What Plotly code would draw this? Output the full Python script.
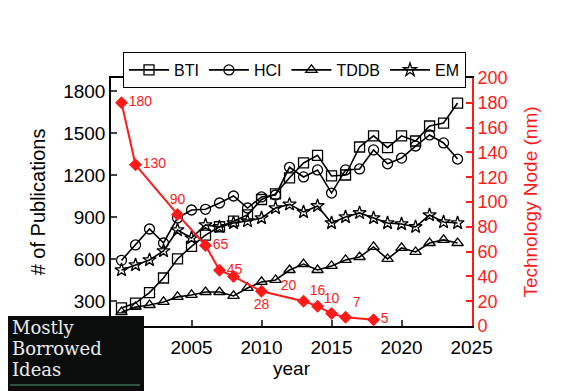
import plotly.graph_objects as go

years = [2000, 2001, 2002, 2003, 2004, 2005, 2006, 2007, 2008, 2009, 2010, 2011, 2012,
         2013, 2014, 2015, 2016, 2017, 2018, 2019, 2020, 2021, 2022, 2023, 2024]
bti = [250, 285, 360, 464, 600, 690, 770, 830, 870, 915, 1025, 1065, 1180,
       1286, 1340, 1193, 1200, 1400, 1480, 1395, 1480, 1443, 1550, 1571, 1714]
hci = [590, 700, 814, 714, 893, 950, 955, 1000, 1050, 964, 1043, 1057, 1255,
       1186, 1236, 1071, 1236, 1243, 1379, 1280, 1321, 1407, 1486, 1429, 1314]
tddb = [220, 257, 271, 293, 329, 343, 364, 364, 336, 393, 436, 450, 521,
        564, 521, 550, 593, 614, 686, 600, 679, 650, 714, 736, 714]
em = [521, 557, 593, 657, 807, 750, 843, 829, 857, 871, 893, 964, 990,
      936, 979, 857, 900, 929, 893, 857, 850, 829, 914, 864, 857]

node_years = [2000, 2001, 2004, 2006, 2007, 2008, 2010, 2013, 2014, 2015, 2016, 2018]
node_nm = [180, 130, 90, 65, 45, 40, 28, 20, 16, 10, 7, 5]
node_labels = ["180", "130", "90", "65", "45", "", "28", "20", "16", "10", "7", "5"]
node_label_pos = ["middle right", "middle right", "top center", "middle right", "middle right",
                  "middle right", "bottom center", "top left", "top center", "top center",
                  "top right", "middle right"]

pub_ticks = [300, 600, 900, 1200, 1500, 1800]
nm_ticks = [0, 20, 40, 60, 80, 100, 120, 140, 160, 180, 200]
year_ticks = [2000, 2005, 2010, 2015, 2020, 2025]

W, H = 570, 391
OFF = 8  # page body margin offset
# plot area in page pixels
PL, PR, PT, PB = 111, 472, 78, 326
L = PL - OFF
T = PT - OFF
R = W - (PR - OFF)
B = H - (PB - OFF)
pw, ph = PR - PL, PB - PT

def px(x):  # page x -> paper
    return (x - PL) / pw

def py(y):  # page y -> paper
    return (PB - y) / ph

FONT = "Liberation Sans, Arial, sans-serif"
RED = "#ff1a1a"

fig = go.Figure()
series = [("BTI", bti, "square-open"), ("HCI", hci, "circle-open"),
          ("TDDB", tddb, "triangle-up-open"), ("EM", em, "star-open")]
for name, vals, sym in series:
    fig.add_trace(go.Scatter(
        x=years, y=vals, name=name, mode="lines+markers",
        line=dict(color="black", width=1.6),
        marker=dict(symbol=sym, size=10, color="black", line=dict(width=1.3, color="black")),
    ))

fig.add_trace(go.Scatter(
    x=node_years, y=node_nm, yaxis="y2", mode="lines+markers+text", showlegend=False,
    text=node_labels, textposition=node_label_pos,
    textfont=dict(color=RED, size=14, family=FONT),
    line=dict(color=RED, width=2),
    marker=dict(symbol="diamond", size=10, color=RED),
))

fig.update_layout(
    width=W, height=H,
    margin=dict(l=L, r=R, t=T, b=B, autoexpand=False),
    paper_bgcolor="white", plot_bgcolor="white",
    font=dict(family=FONT, color="black"),
    showlegend=True,
    legend=dict(orientation="h", x=px(123), y=py(52), xanchor="left", yanchor="top",
                bordercolor="black", borderwidth=1, bgcolor="white",
                font=dict(size=16, family=FONT), itemwidth=40,
                tracegroupgap=0),
    xaxis=dict(range=[1999.25, 2025.03], tickvals=year_ticks, ticks="inside", ticklen=6,
               tickwidth=1.5, showline=True, linecolor="black", linewidth=1.8, mirror=True,
               showgrid=False, zeroline=False, automargin=False, ticklabelstandoff=3,
               tickfont=dict(size=19), title=dict(text="year", font=dict(size=19), standoff=2)),
    yaxis=dict(range=[121, 1893], tickvals=pub_ticks, ticks="inside", ticklen=6,
               tickwidth=1.5, showline=True, linecolor="black", linewidth=1.5,
               showgrid=False, zeroline=False, automargin=False,
               tickfont=dict(size=19),
               title=dict(text="# of Publications", font=dict(size=20), standoff=12)),
    yaxis2=dict(range=[0, 200], tickvals=nm_ticks, overlaying="y", side="right",
                ticks="inside", ticklen=6, tickwidth=1.5, tickcolor=RED,
                showline=True, linecolor=RED, linewidth=2,
                showgrid=False, zeroline=False, automargin=False,
                tickfont=dict(size=18, color=RED),
                title=dict(text="Technology Node (nm)", font=dict(size=19, color=RED), standoff=17)),
)

# watermark box (page coordinates)
fig.add_shape(type="rect", xref="paper", yref="paper", layer="above",
              x0=px(OFF), x1=px(144), y0=py(H + OFF), y1=py(316),
              fillcolor="#0b0d0d", line=dict(width=0))
fig.add_shape(type="line", xref="paper", yref="paper", layer="above",
              x0=px(OFF + 2), x1=px(140), y0=py(385), y1=py(385),
              line=dict(color="#3d6b52", width=1.5))
for txt, yc in [("Mostly", 327), ("Borrowed", 348), ("Ideas", 369)]:
    fig.add_annotation(text=txt, xref="paper", yref="paper", x=px(10), y=py(yc),
                       xanchor="left", yanchor="middle", showarrow=False,
                       font=dict(family="DejaVu Serif, serif", size=18, color="#ececec"))

fig.write_html("out.html")
